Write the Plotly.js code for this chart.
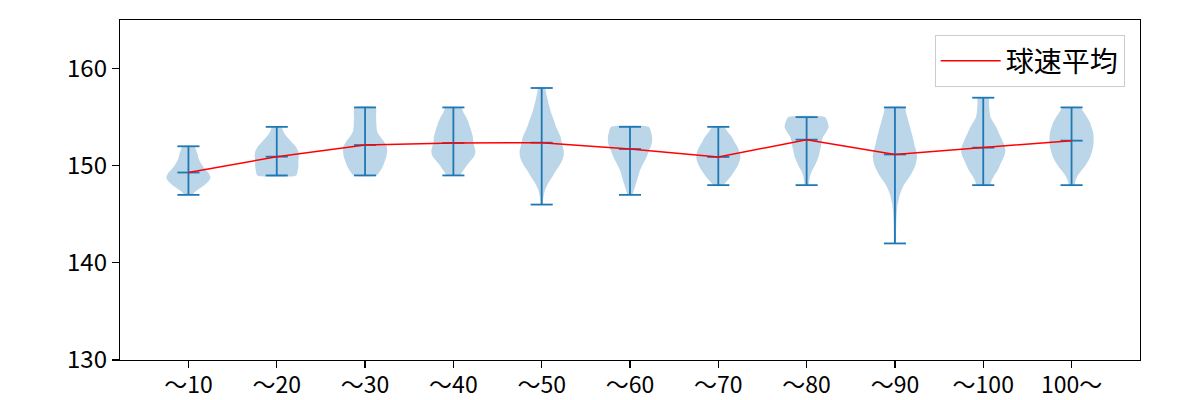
<!DOCTYPE html>
<html>
<head>
<meta charset="utf-8">
<script src="https://cdn.plot.ly/plotly-3.0.1.min.js"></script>
<style>html,body{margin:0;padding:0;background:#fff;}#chart{width:1200px;height:400px;}</style>
</head>
<body>
<div id="chart"></div>
<script>
// Category labels (tick labels)
const categories = ["～10", "～20", "～30", "～40", "～50", "～60", "～70", "～80", "～90", "～100", "100～"];
// Summary statistics per category (球速, km/h)
const minValues  = [147, 149, 149, 149, 146, 147, 148, 148, 142, 148, 148];
const maxValues  = [152, 154, 156, 156, 158, 154, 154, 155, 156, 157, 156];
const meanValues = [149.3, 150.93, 152.13, 152.34, 152.37, 151.72, 150.9, 152.68, 151.16, 151.86, 152.58];

// Density profiles: speed levels and relative density (1 = widest)
const profileLevels = [
  [147.0,147.5,148.0,148.5,148.8,149.3,149.8,150.3,150.8,151.3,151.7,152.0],
  [149.0,149.5,150.0,150.5,151.0,151.5,152.0,152.5,153.0,153.5,154.0],
  [149.0,149.5,150.0,150.5,151.0,151.5,152.0,152.5,153.0,153.5,154.0,155.0,156.0],
  [149.0,149.5,150.0,150.5,151.0,151.5,152.0,152.5,153.0,153.5,154.0,154.5,155.0,155.5,156.0],
  [146.0,146.5,147.0,147.5,148.0,148.5,149.0,149.5,150.0,150.5,151.0,151.5,152.0,152.5,153.0,153.5,154.0,154.5,155.0,155.5,156.0,156.5,157.0,157.5,158.0],
  [147.0,147.5,148.0,148.5,149.0,149.5,150.0,150.5,151.0,151.5,152.0,152.5,153.0,153.5,154.0],
  [148.0,148.5,149.0,149.5,150.0,150.5,151.0,151.5,152.0,152.5,153.0,153.5,154.0],
  [148.0,148.5,149.0,149.5,150.0,150.5,151.0,151.5,152.0,152.5,153.0,153.5,154.0,154.5,155.0],
  [142.0,143.0,144.0,145.0,146.0,146.5,147.0,147.5,148.0,148.5,149.0,149.5,150.0,150.5,151.0,151.5,152.0,152.5,153.0,153.5,154.0,154.5,155.0,155.5,156.0],
  [148.0,148.5,149.0,149.5,150.0,150.5,151.0,151.5,152.0,152.5,153.0,153.5,154.0,154.5,155.0,155.5,156.0,156.5,157.0],
  [148.0,148.5,149.0,149.5,150.0,150.5,151.0,151.5,152.0,152.5,153.0,153.5,154.0,154.5,155.0,155.5,156.0]
];
const profileDensity = [
  [0.15,0.4,0.72,0.95,1.0,0.9,0.7,0.55,0.45,0.4,0.33,0.27],
  [0.88,0.95,0.98,0.98,1.0,0.97,0.85,0.65,0.45,0.3,0.2],
  [0.52,0.7,0.82,0.9,0.97,1.0,0.98,0.85,0.68,0.55,0.52,0.5,0.48],
  [0.3,0.45,0.6,0.78,0.95,1.0,0.95,0.9,0.88,0.82,0.75,0.68,0.58,0.45,0.36],
  [0.05,0.06,0.1,0.15,0.25,0.38,0.52,0.65,0.8,0.92,0.99,1.0,0.95,0.9,0.85,0.75,0.65,0.58,0.5,0.42,0.36,0.3,0.25,0.2,0.15],
  [0.1,0.18,0.25,0.32,0.38,0.45,0.55,0.67,0.77,0.85,0.95,1.0,1.0,0.95,0.85],
  [0.22,0.42,0.6,0.75,0.88,0.97,1.0,0.95,0.85,0.72,0.6,0.42,0.25],
  [0.08,0.12,0.16,0.25,0.37,0.47,0.55,0.6,0.65,0.68,0.75,0.9,1.0,0.95,0.84],
  [0.04,0.05,0.06,0.08,0.12,0.17,0.22,0.3,0.4,0.55,0.7,0.82,0.92,0.98,1.0,0.97,0.9,0.85,0.8,0.74,0.68,0.62,0.56,0.5,0.45],
  [0.3,0.38,0.5,0.65,0.75,0.85,0.95,1.0,0.97,0.88,0.78,0.68,0.58,0.45,0.33,0.29,0.27,0.26,0.26],
  [0.12,0.18,0.28,0.45,0.62,0.76,0.86,0.93,0.98,1.0,1.0,0.97,0.9,0.83,0.7,0.55,0.4]
];

const VIOLIN_WIDTH = 0.5;   // matplotlib default widths
const CAP_HALF = 0.125;     // cap half-length (0.25 * width)
const positions = categories.map((_, i) => i + 1);

const traces = [];
// Violin bodies
positions.forEach((p, i) => {
  const lv = profileLevels[i], dv = profileDensity[i];
  const xs = [], ys = [];
  for (let k = 0; k < lv.length; k++) { xs.push(p + dv[k] * VIOLIN_WIDTH / 2); ys.push(lv[k]); }
  for (let k = lv.length - 1; k >= 0; k--) { xs.push(p - dv[k] * VIOLIN_WIDTH / 2); ys.push(lv[k]); }
  xs.push(xs[0]); ys.push(ys[0]);
  traces.push({
    type: "scatter", mode: "lines", x: xs, y: ys,
    fill: "toself", fillcolor: "rgba(31,119,180,0.3)",
    line: {width: 0, shape: "spline", smoothing: 0.6, color: "rgba(31,119,180,0)"},
    hoverinfo: "skip", showlegend: false
  });
});

// Bars, caps (min, max, mean)
const bx = [], by = [];
positions.forEach((p, i) => {
  bx.push(p, p, null); by.push(minValues[i], maxValues[i], null);
  [minValues[i], maxValues[i], meanValues[i]].forEach(v => {
    bx.push(p - CAP_HALF, p + CAP_HALF, null); by.push(v, v, null);
  });
});
traces.push({
  type: "scatter", mode: "lines", x: bx, y: by,
  line: {color: "#1f77b4", width: 1.8}, hoverinfo: "skip", showlegend: false
});

// Mean line
traces.push({
  type: "scatter", mode: "lines", x: positions, y: meanValues,
  name: "球速平均", line: {color: "#ff0000", width: 1.5}, showlegend: true
});

const FONT = "'Noto Sans CJK JP', 'Noto Sans', sans-serif";
const layout = {
  width: 1200, height: 400,
  margin: {l: 120, r: 60, t: 20, b: 40},
  paper_bgcolor: "#ffffff", plot_bgcolor: "#ffffff",
  font: {family: FONT, size: 22, color: "#000000"},
  showlegend: true,
  legend: {
    x: 0.985, y: 0.956, xanchor: "right", yanchor: "top",
    bgcolor: "rgba(255,255,255,0.8)", bordercolor: "#cccccc", borderwidth: 1,
    font: {family: FONT, size: 28, color: "#000000"},
    itemwidth: 60
  },
  xaxis: {
    range: [0.225, 11.775], tickmode: "array", tickvals: positions, ticktext: categories,
    showgrid: false, zeroline: false, showline: true, linecolor: "#000000", linewidth: 1.2,
    mirror: true, ticks: "outside", ticklen: 7, tickwidth: 1.2, tickcolor: "#000000",
    ticklabelstandoff: -3,
    tickfont: {family: FONT, size: 23, color: "#000000"}
  },
  yaxis: {
    range: [130, 165], tickmode: "array", tickvals: [130, 140, 150, 160],
    showgrid: false, zeroline: false, showline: true, linecolor: "#000000", linewidth: 1.2,
    mirror: true, ticks: "outside", ticklen: 7, tickwidth: 1.2, tickcolor: "#000000",
    tickfont: {family: FONT, size: 24, color: "#000000"}
  }
};

Plotly.newPlot("chart", traces, layout, {displayModeBar: false, staticPlot: true});
</script>
</body>
</html>
